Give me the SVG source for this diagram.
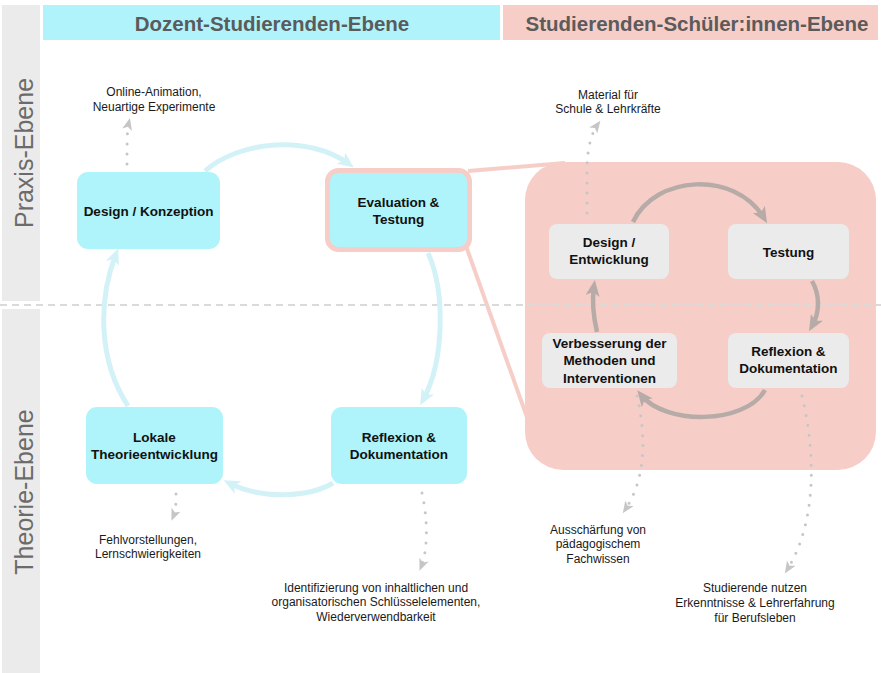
<svg xmlns="http://www.w3.org/2000/svg" width="881" height="673" viewBox="0 0 881 673">
  <style>
    .hdr { font-family: "Liberation Sans", Arial, sans-serif; font-size: 20.5px; font-weight: bold; fill: #5b5b5b; text-anchor: middle; }
    .side { font-family: "Liberation Sans", Arial, sans-serif; font-size: 25px; fill: #6b6b6b; text-anchor: middle; }
    .lbl { font-family: "Liberation Sans", Arial, sans-serif; font-size: 13.5px; font-weight: bold; fill: #111; text-anchor: middle; }
    .note { font-family: "Liberation Sans", Arial, sans-serif; font-size: 12px; fill: #1a1a1a; text-anchor: middle; }
    .cyan { fill: #aff4fb; }
    .grey { fill: #ebebeb; }
    .cyc { fill: none; stroke: #d3f2f8; stroke-width: 5; }
    .inner { fill: none; stroke: #b7aba8; stroke-width: 4.5; }
    .dots { fill: none; stroke: #c6c6c6; stroke-width: 3; stroke-linecap: round; stroke-dasharray: 0 10; }
  </style>
  <defs>
    <marker id="headCyan" markerUnits="userSpaceOnUse" viewBox="0 0 16 14" refX="10" refY="7" markerWidth="16" markerHeight="14" orient="auto">
      <path d="M0,0 L16,7 L0,14 L4,7 z" fill="#d3f2f8"/>
    </marker>
    <marker id="headGrey" markerUnits="userSpaceOnUse" viewBox="0 0 16 14" refX="10" refY="7" markerWidth="16" markerHeight="14" orient="auto">
      <path d="M0,0 L16,7 L0,14 L4,7 z" fill="#b7aba8"/>
    </marker>
    <marker id="headDot" markerUnits="userSpaceOnUse" viewBox="0 0 12 10" refX="8" refY="5" markerWidth="12" markerHeight="10" orient="auto">
      <path d="M0,0 L12,5 L0,10 L3,5 z" fill="#c6c6c6"/>
    </marker>
  </defs>

  <rect width="881" height="673" fill="#ffffff"/>

  <!-- level bar on the left -->
  <g id="levels">
    <rect x="2" y="5" width="38" height="296" fill="#ebebeb"/>
    <rect x="2" y="309" width="38" height="364" fill="#ebebeb"/>
    <text class="side" transform="translate(33,153) rotate(-90)">Praxis-Ebene</text>
    <text class="side" transform="translate(33,492) rotate(-90)">Theorie-Ebene</text>
  </g>

  <!-- column headers -->
  <g id="headers">
    <rect x="43" y="5" width="457" height="35" fill="#b0f3fa"/>
    <text class="hdr" x="272" y="31">Dozent-Studierenden-Ebene</text>
    <rect x="503" y="5" width="375" height="35" fill="#f6cec7"/>
    <text class="hdr" x="697" y="31">Studierenden-Schüler:innen-Ebene</text>
  </g>

  <!-- zoomed-in panel for the school level -->
  <g id="panel">
    <line x1="468" y1="171" x2="565" y2="163" stroke="#f6cec7" stroke-width="4"/>
    <line x1="466" y1="246" x2="528" y2="420" stroke="#f6cec7" stroke-width="4"/>
    <rect x="525" y="162" width="351" height="308" rx="38" fill="#f6cec7"/>
  </g>

  <!-- boundary between practice and theory -->
  <line x1="0" y1="305" x2="881" y2="305" stroke="#dadada" stroke-width="2" stroke-dasharray="7 5"/>

  <g id="connectors">
    <!-- outer cycle -->
    <path class="cyc" d="M205,171 C240,140 310,135 349,164" marker-end="url(#headCyan)"/>
    <path class="cyc" d="M428,253 C445,290 445,360 423,400" marker-end="url(#headCyan)"/>
    <path class="cyc" d="M333,483 C310,497 262,500 229,483" marker-end="url(#headCyan)"/>
    <path class="cyc" d="M128,406 C98,360 98,300 116,254" marker-end="url(#headCyan)"/>
    <!-- inner cycle -->
    <path class="inner" d="M633,222 C655,175 735,170 764,218" marker-end="url(#headGrey)"/>
    <path class="inner" d="M812,281 C820,295 820,312 812,326" marker-end="url(#headGrey)"/>
    <path class="inner" d="M765,390 C745,425 665,425 641,395" marker-end="url(#headGrey)"/>
    <path class="inner" d="M597,332 C593,315 592,300 594,286" marker-end="url(#headGrey)"/>
    <!-- outcomes -->
    <path class="dots" d="M127,164 C127,140 127,130 129,122" marker-end="url(#headDot)"/>
    <path class="dots" d="M176,494 C176,505 176,510 173,517" marker-end="url(#headDot)"/>
    <path class="dots" d="M422,493 C428,520 428,550 421,567" marker-end="url(#headDot)"/>
    <path class="dots" d="M587,213 L587,165 C588,145 592,132 598,124" marker-end="url(#headDot)"/>
    <path class="dots" d="M637,396 C647,440 645,480 625,510" marker-end="url(#headDot)"/>
    <path class="dots" d="M802,396 C815,450 818,520 787,570" marker-end="url(#headDot)"/>
  </g>

  <!-- lecturer-student level nodes -->
  <g id="design-konzeption">
    <rect class="cyan" x="77" y="172" width="143" height="77" rx="11"/>
    <text class="lbl" x="148.5" y="215.5">Design / Konzeption</text>
  </g>
  <g id="evaluation-testung">
    <rect class="cyan" x="327.5" y="170.5" width="142" height="79" rx="11" stroke="#f6cec7" stroke-width="5"/>
    <text class="lbl" x="398.5" y="207">Evaluation &amp;</text>
    <text class="lbl" x="398.5" y="224">Testung</text>
  </g>
  <g id="lokale-theorieentwicklung">
    <rect class="cyan" x="86" y="407" width="137" height="77" rx="11"/>
    <text class="lbl" x="154.5" y="442">Lokale</text>
    <text class="lbl" x="154.5" y="459">Theorieentwicklung</text>
  </g>
  <g id="reflexion-dokumentation">
    <rect class="cyan" x="331" y="407" width="136" height="77" rx="11"/>
    <text class="lbl" x="399" y="442">Reflexion &amp;</text>
    <text class="lbl" x="399" y="459">Dokumentation</text>
  </g>

  <!-- student-pupil level nodes -->
  <g id="design-entwicklung">
    <rect class="grey" x="549" y="224" width="120" height="55" rx="8"/>
    <text class="lbl" x="609" y="247">Design /</text>
    <text class="lbl" x="609" y="264">Entwicklung</text>
  </g>
  <g id="testung">
    <rect class="grey" x="728" y="224" width="121" height="55" rx="8"/>
    <text class="lbl" x="788.5" y="257">Testung</text>
  </g>
  <g id="verbesserung">
    <rect class="grey" x="542" y="333" width="135" height="55" rx="8"/>
    <text class="lbl" x="609.5" y="347.5">Verbesserung der</text>
    <text class="lbl" x="609.5" y="365">Methoden und</text>
    <text class="lbl" x="609.5" y="382.5">Interventionen</text>
  </g>
  <g id="reflexion-dokumentation-2">
    <rect class="grey" x="728" y="333" width="121" height="55" rx="8"/>
    <text class="lbl" x="788.5" y="356">Reflexion &amp;</text>
    <text class="lbl" x="788.5" y="373">Dokumentation</text>
  </g>

  <!-- outcome notes -->
  <g id="notes">
    <text class="note" x="154" y="96">Online-Animation,</text>
    <text class="note" x="154" y="111">Neuartige Experimente</text>
    <text class="note" x="608" y="99">Material für</text>
    <text class="note" x="608" y="113">Schule &amp; Lehrkräfte</text>
    <text class="note" x="148" y="544">Fehlvorstellungen,</text>
    <text class="note" x="148" y="558">Lernschwierigkeiten</text>
    <text class="note" x="376" y="592">Identifizierung von inhaltlichen und</text>
    <text class="note" x="376" y="606">organisatorischen Schlüsselelementen,</text>
    <text class="note" x="376" y="621">Wiederverwendbarkeit</text>
    <text class="note" x="598" y="534">Ausschärfung von</text>
    <text class="note" x="598" y="548">pädagogischem</text>
    <text class="note" x="598" y="563">Fachwissen</text>
    <text class="note" x="755" y="592">Studierende nutzen</text>
    <text class="note" x="755" y="607">Erkenntnisse &amp; Lehrerfahrung</text>
    <text class="note" x="755" y="622">für Berufsleben</text>
  </g>
</svg>
